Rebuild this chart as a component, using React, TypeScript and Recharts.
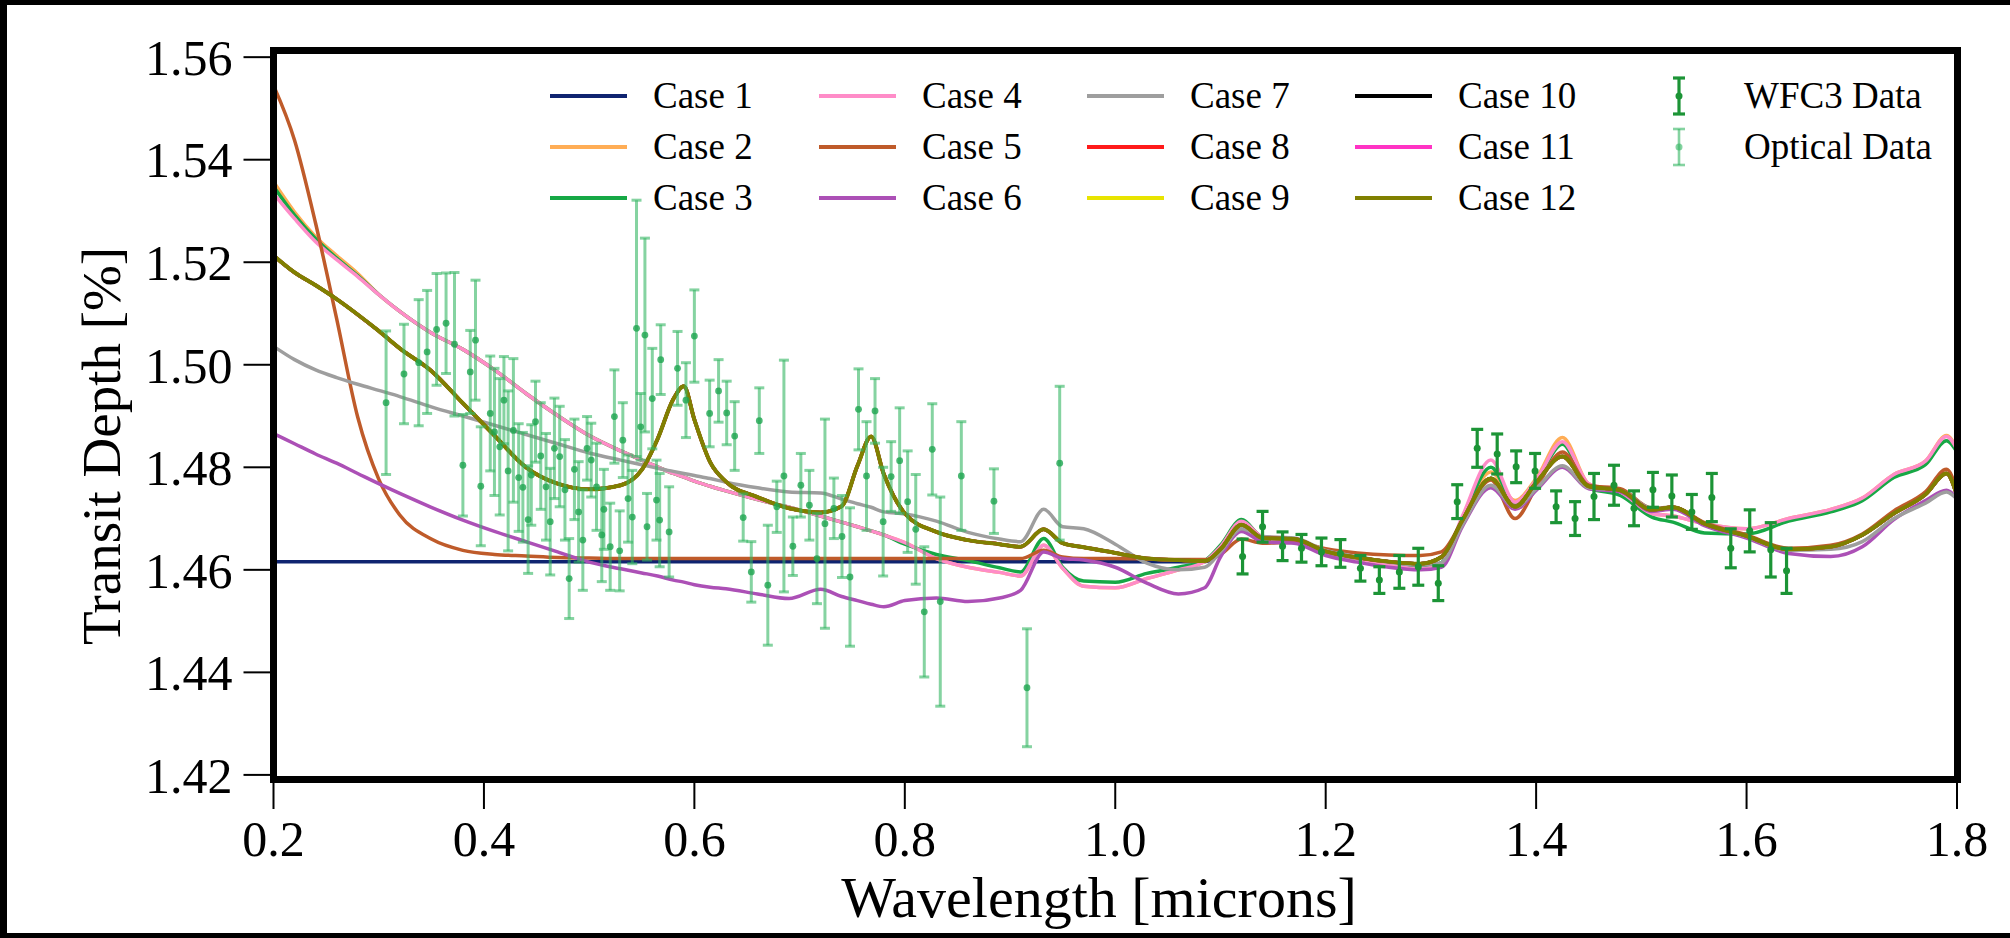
import { ComposedChart, Line, Scatter, ErrorBar, XAxis, YAxis } from 'recharts'

// model wavelength grid (microns)
const WAVE = [
  0.20, 0.22, 0.24, 0.26, 0.28, 0.30, 0.32, 0.35, 0.38, 0.41,
  0.44, 0.47, 0.50, 0.53, 0.55, 0.565, 0.58, 0.59, 0.60, 0.615,
  0.63, 0.66, 0.69, 0.72, 0.74, 0.755, 0.768, 0.78, 0.80, 0.83,
  0.86, 0.89, 0.91, 0.932, 0.95, 0.97, 1.00, 1.03, 1.06, 1.085,
  1.10, 1.12, 1.14, 1.17, 1.20, 1.23, 1.26, 1.29, 1.31, 1.33,
  1.357, 1.38, 1.40, 1.425, 1.45, 1.48, 1.51, 1.53, 1.56, 1.60,
  1.64, 1.68, 1.71, 1.74, 1.77, 1.79, 1.80,
]

// shared near-IR part (1.085 .. 1.80)
const CASE_1 = [
  1.4616, 1.4616, 1.4616, 1.4616, 1.4616, 1.4616, 1.4616, 1.4616, 1.4616, 1.4616,
  1.4616, 1.4616, 1.4616, 1.4616, 1.4616, 1.4616, 1.4616, 1.4616, 1.4616, 1.4616,
  1.4616, 1.4616, 1.4616, 1.4616, 1.4616, 1.4616, 1.4616, 1.4616, 1.4616, 1.4616,
  1.4616, 1.4616, 1.4616, 1.4616, 1.4616, 1.4616, 1.4616, 1.4616, 1.4616, 1.4616,
  1.4632, 1.4688, 1.4662, 1.4660, 1.4636, 1.4624, 1.4616, 1.4612, 1.4625, 1.4697,
  1.4778, 1.4723, 1.4770, 1.4821, 1.4763, 1.4755, 1.4717, 1.4722, 1.4690, 1.4666,
  1.4640, 1.4645, 1.4668, 1.4710, 1.4747, 1.4788, 1.4745,
]

const CASE_2 = [
  1.5357, 1.5298, 1.5250, 1.5213, 1.5178, 1.5137, 1.5104, 1.5062, 1.5030, 1.4990,
  1.4944, 1.4901, 1.4862, 1.4832, 1.4814, 1.4801, 1.4788, 1.4781, 1.4773, 1.4763,
  1.4754, 1.4737, 1.4722, 1.4705, 1.4693, 1.4684, 1.4676, 1.4668, 1.4653, 1.4622,
  1.4605, 1.4595, 1.4588, 1.4648, 1.4603, 1.4568, 1.4565, 1.4583, 1.4600, 1.4616,
  1.4645, 1.4695, 1.4665, 1.4660, 1.4635, 1.4622, 1.4610, 1.4602, 1.4612, 1.4700,
  1.4791, 1.4735, 1.4778, 1.4858, 1.4768, 1.4752, 1.4710, 1.4705, 1.4690, 1.4680,
  1.4700, 1.4718, 1.4740, 1.4786, 1.4812, 1.4862, 1.4836,
]

const CASE_3 = [
  1.5348, 1.5292, 1.5246, 1.5208, 1.5174, 1.5137, 1.5104, 1.5062, 1.5030, 1.4990,
  1.4944, 1.4901, 1.4862, 1.4832, 1.4814, 1.4801, 1.4788, 1.4781, 1.4773, 1.4763,
  1.4754, 1.4737, 1.4722, 1.4705, 1.4693, 1.4684, 1.4676, 1.4668, 1.4650, 1.4630,
  1.4618, 1.4604, 1.4596, 1.4661, 1.4605, 1.4578, 1.4576, 1.4593, 1.4605, 1.4618,
  1.4648, 1.4698, 1.4664, 1.4660, 1.4634, 1.4622, 1.4610, 1.4604, 1.4614, 1.4700,
  1.4800, 1.4730, 1.4772, 1.4845, 1.4760, 1.4745, 1.4703, 1.4693, 1.4672, 1.4670,
  1.4695, 1.4713, 1.4735, 1.4780, 1.4805, 1.4852, 1.4830,
]

const CASE_4 = [
  1.5334, 1.5285, 1.5240, 1.5205, 1.5172, 1.5137, 1.5104, 1.5062, 1.5030, 1.4990,
  1.4944, 1.4901, 1.4862, 1.4832, 1.4814, 1.4801, 1.4788, 1.4781, 1.4773, 1.4763,
  1.4754, 1.4737, 1.4722, 1.4705, 1.4693, 1.4684, 1.4676, 1.4668, 1.4653, 1.4622,
  1.4605, 1.4595, 1.4588, 1.4648, 1.4603, 1.4568, 1.4565, 1.4583, 1.4600, 1.4616,
  1.4645, 1.4695, 1.4665, 1.4660, 1.4635, 1.4622, 1.4610, 1.4602, 1.4612, 1.4705,
  1.4814, 1.4732, 1.4775, 1.4850, 1.4768, 1.4752, 1.4710, 1.4705, 1.4690, 1.4680,
  1.4700, 1.4718, 1.4740, 1.4786, 1.4812, 1.4860, 1.4835,
]

const CASE_5 = [
  1.5545, 1.5438, 1.5276, 1.5090, 1.4898, 1.4777, 1.4707, 1.4660, 1.4638, 1.4630,
  1.4627, 1.4624, 1.4623, 1.4622, 1.4622, 1.4622, 1.4622, 1.4622, 1.4622, 1.4622,
  1.4622, 1.4622, 1.4622, 1.4622, 1.4622, 1.4622, 1.4622, 1.4622, 1.4622, 1.4622,
  1.4622, 1.4622, 1.4622, 1.4638, 1.4625, 1.4622, 1.4622, 1.4621, 1.4620, 1.4620,
  1.4630, 1.4660, 1.4652, 1.4654, 1.4641, 1.4633, 1.4629, 1.4628, 1.4635, 1.4695,
  1.4775, 1.4700, 1.4760, 1.4830, 1.4765, 1.4758, 1.4720, 1.4722, 1.4692, 1.4668,
  1.4642, 1.4648, 1.4670, 1.4715, 1.4752, 1.4796, 1.4755,
]

const CASE_6 = [
  1.4866, 1.4846, 1.4826, 1.4808, 1.4788, 1.4768, 1.4749, 1.4722, 1.4697, 1.4675,
  1.4655, 1.4635, 1.4615, 1.4602, 1.4594, 1.4588, 1.4580, 1.4576, 1.4571, 1.4566,
  1.4563, 1.4553, 1.4544, 1.4562, 1.4548, 1.4540, 1.4533, 1.4528, 1.4540, 1.4545,
  1.4538, 1.4545, 1.4560, 1.4635, 1.4622, 1.4619, 1.4605, 1.4574, 1.4553, 1.4565,
  1.4625, 1.4675, 1.4655, 1.4652, 1.4628, 1.4615, 1.4605, 1.4600, 1.4605, 1.4685,
  1.4760, 1.4718, 1.4755, 1.4800, 1.4758, 1.4752, 1.4714, 1.4718, 1.4686, 1.4662,
  1.4632, 1.4626, 1.4645, 1.4698, 1.4735, 1.4755, 1.4740,
]

const CASE_7 = [
  1.5036, 1.5010, 1.4990, 1.4975, 1.4962, 1.4950, 1.4938, 1.4918, 1.4900, 1.4882,
  1.4864, 1.4846, 1.4828, 1.4814, 1.4805, 1.4798, 1.4792, 1.4788, 1.4784, 1.4778,
  1.4771, 1.4760, 1.4752, 1.4750, 1.4738, 1.4729, 1.4722, 1.4713, 1.4709, 1.4695,
  1.4673, 1.4660, 1.4655, 1.4718, 1.4684, 1.4680, 1.4650, 1.4613, 1.4600, 1.4605,
  1.4635, 1.4680, 1.4665, 1.4662, 1.4638, 1.4626, 1.4615, 1.4609, 1.4614, 1.4688,
  1.4765, 1.4722, 1.4758, 1.4803, 1.4760, 1.4755, 1.4720, 1.4722, 1.4690, 1.4665,
  1.4638, 1.4640, 1.4655, 1.4700, 1.4730, 1.4752, 1.4738,
]

// cases 8-12 sit on top of each other, case 12 (olive) is the one you see
const CASE_12 = [
  1.5213, 1.5180, 1.5155, 1.5128, 1.5098, 1.5066, 1.5032, 1.4988, 1.4925, 1.4862,
  1.4800, 1.4768, 1.4757, 1.4765, 1.4795, 1.4855, 1.4933, 1.4958, 1.4893, 1.4810,
  1.4772, 1.4742, 1.4720, 1.4712, 1.4724, 1.4803, 1.4860, 1.4787, 1.4710, 1.4674,
  1.4658, 1.4650, 1.4645, 1.4679, 1.4652, 1.4644, 1.4633, 1.4622, 1.4619, 1.4617,
  1.4640, 1.4688, 1.4662, 1.4660, 1.4636, 1.4624, 1.4616, 1.4612, 1.4625, 1.4697,
  1.4778, 1.4723, 1.4770, 1.4821, 1.4763, 1.4755, 1.4717, 1.4722, 1.4690, 1.4666,
  1.4640, 1.4645, 1.4668, 1.4710, 1.4747, 1.4788, 1.4745,
]
const CASE_8 = CASE_12
const CASE_9 = CASE_12
const CASE_10 = CASE_12
const CASE_11 = CASE_12

const CASES = [
  { key: 'c1', name: 'Case 1', color: '#0f2470', values: CASE_1 },
  { key: 'c2', name: 'Case 2', color: '#ffad55', values: CASE_2 },
  { key: 'c3', name: 'Case 3', color: '#16a845', values: CASE_3 },
  { key: 'c4', name: 'Case 4', color: '#ff8cc8', values: CASE_4 },
  { key: 'c5', name: 'Case 5', color: '#bf5b2a', values: CASE_5 },
  { key: 'c6', name: 'Case 6', color: '#ac50b6', values: CASE_6 },
  { key: 'c7', name: 'Case 7', color: '#9e9e9e', values: CASE_7 },
  { key: 'c8', name: 'Case 8', color: '#ff1a1a', values: CASE_8 },
  { key: 'c9', name: 'Case 9', color: '#e8e400', values: CASE_9 },
  { key: 'c10', name: 'Case 10', color: '#000000', values: CASE_10 },
  { key: 'c11', name: 'Case 11', color: '#ff33c4', values: CASE_11 },
  { key: 'c12', name: 'Case 12', color: '#808000', values: CASE_12 },
]

const WFC3_WAVE = [
  1.121, 1.140, 1.159, 1.177, 1.196, 1.214, 1.233, 1.251, 1.270, 1.288,
  1.307, 1.325, 1.344, 1.363, 1.381, 1.399, 1.419, 1.437, 1.455, 1.474,
  1.493, 1.511, 1.529, 1.548, 1.567, 1.585, 1.603, 1.623, 1.638,
]
const WFC3_DEPTH = [
  1.4626, 1.4684, 1.4646, 1.4642, 1.4635, 1.4632, 1.4603, 1.4580, 1.4596, 1.4606,
  1.4574, 1.4733, 1.4837, 1.4826, 1.4801, 1.4793, 1.4723, 1.4700, 1.4743, 1.4765,
  1.4720, 1.4756, 1.4744, 1.4713, 1.4741, 1.4642, 1.4676, 1.4639, 1.4598,
]
const WFC3_ERR = [
  0.0034, 0.0030, 0.0028, 0.0027, 0.0027, 0.0027, 0.0025, 0.0026, 0.0032, 0.0036,
  0.0034, 0.0033, 0.0037, 0.0039, 0.0031, 0.0034, 0.0031, 0.0033, 0.0045, 0.0039,
  0.0034, 0.0034, 0.0041, 0.0034, 0.0047, 0.0038, 0.0041, 0.0053, 0.0044,
]

const OPT_WAVE = [
  0.307, 0.324, 0.338, 0.346, 0.355, 0.364, 0.372, 0.380, 0.387, 0.392,
  0.397, 0.406, 0.410, 0.415, 0.419, 0.423, 0.428, 0.433, 0.437, 0.442,
  0.445, 0.449, 0.454, 0.459, 0.463, 0.467, 0.472, 0.477, 0.481, 0.486,
  0.490, 0.494, 0.498, 0.502, 0.507, 0.512, 0.514, 0.520, 0.524, 0.529,
  0.532, 0.537, 0.541, 0.545, 0.549, 0.553, 0.555, 0.560, 0.564, 0.568,
  0.567, 0.576, 0.584, 0.592, 0.600, 0.6145, 0.623, 0.6307, 0.6383, 0.6464,
  0.6541, 0.6617, 0.6698, 0.6783, 0.6851, 0.6936, 0.7012, 0.7093, 0.7165, 0.7241,
  0.7326, 0.7403, 0.7479, 0.756, 0.7636, 0.7717, 0.7794, 0.787, 0.7951, 0.8027,
  0.8104, 0.8185, 0.8261, 0.8337, 0.8537, 0.8847, 0.9161, 0.9472,
]
const OPT_DEPTH = [
  1.4926, 1.4982, 1.5004, 1.5025, 1.5069, 1.5081, 1.5040, 1.4804, 1.4986, 1.5048,
  1.4763, 1.4905, 1.4869, 1.4840, 1.4931, 1.4793, 1.4872, 1.4780, 1.4761, 1.4698,
  1.4785, 1.4889, 1.4822, 1.4762, 1.4694, 1.4837, 1.4821, 1.4756, 1.4583, 1.4796,
  1.4713, 1.4658, 1.4837, 1.4814, 1.4762, 1.4668, 1.4718, 1.4645, 1.4899, 1.4637,
  1.4853, 1.4739, 1.4703, 1.5071, 1.4879, 1.5058, 1.4684, 1.4934, 1.4736, 1.5010,
  1.4697, 1.4674, 1.4993, 1.4931, 1.5056, 1.4905, 1.4949, 1.4906, 1.4861, 1.4702,
  1.4596, 1.4891, 1.4570, 1.4723, 1.4783, 1.4646, 1.4765, 1.4726, 1.4622, 1.4690,
  1.4720, 1.4665, 1.4586, 1.4913, 1.4783, 1.4910, 1.4694, 1.4782, 1.4813, 1.4733,
  1.4679, 1.4518, 1.4835, 1.4538, 1.4783, 1.4734, 1.4370, 1.4808,
]
const OPT_ERR = [
  0.0140, 0.0097, 0.0123, 0.0120, 0.0109, 0.0098, 0.0140, 0.0099, 0.0081, 0.0117,
  0.0116, 0.0112, 0.0124, 0.0133, 0.0085, 0.0156, 0.0140, 0.0105, 0.0107, 0.0105,
  0.0098, 0.0079, 0.0104, 0.0104, 0.0104, 0.0098, 0.0098, 0.0098, 0.0078, 0.0098,
  0.0098, 0.0098, 0.0062, 0.0072, 0.0085, 0.0091, 0.0078, 0.0085, 0.0091, 0.0078,
  0.0073, 0.0085, 0.0091, 0.0250, 0.0065, 0.0189, 0.0065, 0.0098, 0.0078, 0.0068,
  0.0091, 0.0088, 0.0072, 0.0073, 0.0090, 0.0065, 0.0061, 0.0062, 0.0067, 0.0046,
  0.0059, 0.0064, 0.0117, 0.0050, 0.0226, 0.0057, 0.0062, 0.0068, 0.0088, 0.0204,
  0.0059, 0.0080, 0.0135, 0.0079, 0.0106, 0.0063, 0.0106, 0.0068, 0.0103, 0.0099,
  0.0107, 0.0127, 0.0089, 0.0204, 0.0106, 0.0063, 0.0115, 0.0150,
]

const X_TICKS = [0.2, 0.4, 0.6, 0.8, 1.0, 1.2, 1.4, 1.6, 1.8]
const Y_TICKS = [1.42, 1.44, 1.46, 1.48, 1.50, 1.52, 1.54, 1.56]

const FONT = "'Liberation Serif', 'Times New Roman', serif"
const WFC3_COLOR = '#1c9436'
const OPT_COLOR = 'rgba(52, 182, 98, 0.6)'

const modelRows = WAVE.map((wl, i) => {
  const row: Record<string, number> = { wl }
  CASES.forEach((c) => { row[c.key] = c.values[i] })
  return row
})
const wfc3Rows = WFC3_WAVE.map((wl, i) => ({ wl, depth: WFC3_DEPTH[i], err: WFC3_ERR[i] }))
const optRows = OPT_WAVE.map((wl, i) => ({ wl, depth: OPT_DEPTH[i], err: OPT_ERR[i] }))

// legend grid: column-major, 3 rows
const LEG_COL_X = [550, 819, 1087, 1355, 1641]
const LEG_ROW_Y = [96, 147, 198]

function ErrLegend({ x, y, color, width }: { x: number; y: number; color: string; width: number }) {
  const cx = x + 38
  return (
    <g>
      <line x1={cx} x2={cx} y1={y - 18} y2={y + 18} stroke={color} strokeWidth={width} />
      <line x1={cx - 6} x2={cx + 6} y1={y - 18} y2={y - 18} stroke={color} strokeWidth={width} />
      <line x1={cx - 6} x2={cx + 6} y1={y + 18} y2={y + 18} stroke={color} strokeWidth={width} />
      <circle cx={cx} cy={y} r={3.5} fill={color} />
    </g>
  )
}

export default function App() {
  return (
    <div style={{ position: 'absolute', left: 0, top: 0, width: 2010, height: 938, background: '#000', overflow: 'hidden' }}>
      <div style={{ position: 'absolute', left: 7, top: 5, width: 2003, height: 928, background: '#fff' }} />
      <div style={{ position: 'absolute', left: 0, top: 0 }}>
        <ComposedChart
          width={2010}
          height={938}
          data={modelRows}
          margin={{ top: 50.5, right: 53, bottom: 59, left: 133.5 }}
        >
          <XAxis
            type="number"
            dataKey="wl"
            domain={[0.2, 1.8]}
            ticks={X_TICKS}
            interval={0}
            allowDataOverflow
            height={100}
            tickFormatter={(v: number) => v.toFixed(1)}
            tick={{ fill: '#000', fontSize: 50, fontFamily: FONT }}
            tickSize={30}
            tickMargin={11}
            axisLine={false}
            tickLine={{ stroke: '#000', strokeWidth: 2 }}
          />
          <YAxis
            type="number"
            domain={[1.4192, 1.5613]}
            ticks={Y_TICKS}
            interval={0}
            allowDataOverflow
            width={140}
            tickFormatter={(v: number) => v.toFixed(2)}
            tick={{ fill: '#000', fontSize: 50, fontFamily: FONT }}
            tickSize={30}
            tickMargin={11}
            axisLine={false}
            tickLine={{ stroke: '#000', strokeWidth: 2 }}
          />
          {CASES.map((c) => (
            <Line
              key={c.key}
              type="monotone"
              dataKey={c.key}
              name={c.name}
              stroke={c.color}
              strokeWidth={c.key === 'c12' ? 4 : 3.5}
              dot={false}
              activeDot={false}
              isAnimationActive={false}
            />
          ))}
          <Scatter
            name="WFC3 Data"
            data={wfc3Rows}
            dataKey="depth"
            isAnimationActive={false}
            shape={(p: any) => <circle cx={p.cx} cy={p.cy} r={3.5} fill={WFC3_COLOR} />}
          >
            <ErrorBar dataKey="err" direction="y" width={6} stroke={WFC3_COLOR} strokeWidth={3.2} isAnimationActive={false} />
          </Scatter>
          <Scatter
            name="Optical Data"
            data={optRows}
            dataKey="depth"
            isAnimationActive={false}
            shape={(p: any) => <circle cx={p.cx} cy={p.cy} r={3.4} fill="rgba(30, 165, 80, 0.8)" />}
          >
            <ErrorBar dataKey="err" direction="y" width={5} stroke={OPT_COLOR} strokeWidth={3} isAnimationActive={false} />
          </Scatter>
        </ComposedChart>
      </div>
      {/* axes frame */}
      <div
        style={{
          position: 'absolute', left: 270, top: 47, width: 1691, height: 736,
          border: '7px solid #000', boxSizing: 'border-box', pointerEvents: 'none',
        }}
      />
      <svg width={2010} height={938} style={{ position: 'absolute', left: 0, top: 0, pointerEvents: 'none' }}>
        <text x={1099} y={917} textAnchor="middle" fontFamily={FONT} fontSize={58} fill="#000">
          Wavelength [microns]
        </text>
        <text transform="translate(120, 446) rotate(-90)" textAnchor="middle" fontFamily={FONT} fontSize={55} fill="#000">
          Transit Depth [%]
        </text>
        {CASES.map((c, i) => {
          const x = LEG_COL_X[Math.floor(i / 3)]
          const y = LEG_ROW_Y[i % 3]
          return (
            <g key={c.key}>
              <line x1={x} x2={x + 77} y1={y} y2={y} stroke={c.color} strokeWidth={4} />
              <text x={x + 103} y={y + 12} fontFamily={FONT} fontSize={37} fill="#000">{c.name}</text>
            </g>
          )
        })}
        <ErrLegend x={LEG_COL_X[4]} y={LEG_ROW_Y[0]} color={WFC3_COLOR} width={3.2} />
        <text x={LEG_COL_X[4] + 103} y={LEG_ROW_Y[0] + 12} fontFamily={FONT} fontSize={37} fill="#000">WFC3 Data</text>
        <ErrLegend x={LEG_COL_X[4]} y={LEG_ROW_Y[1]} color={OPT_COLOR} width={2.6} />
        <text x={LEG_COL_X[4] + 103} y={LEG_ROW_Y[1] + 12} fontFamily={FONT} fontSize={37} fill="#000">Optical Data</text>
      </svg>
    </div>
  )
}
